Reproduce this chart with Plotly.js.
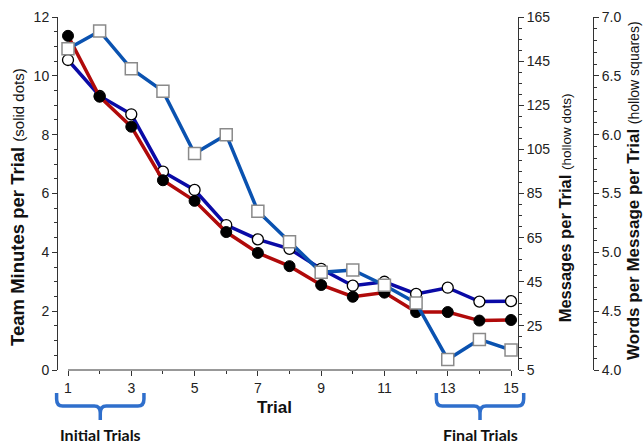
<!DOCTYPE html>
<html>
<head>
<meta charset="utf-8">
<script src="https://cdn.plot.ly/plotly-3.0.1.min.js"></script>
<style>
html,body{margin:0;padding:0;background:#fff;}
#chart{width:644px;height:443px;}
</style>
</head>
<body>
<div id="chart"></div>
<script>
const trials = [1,2,3,4,5,6,7,8,9,10,11,12,13,14,15];
const minutes = [11.36, 9.29, 8.27, 6.45, 5.75, 4.69, 3.98, 3.53, 2.89, 2.49, 2.63, 1.97, 1.97, 1.68, 1.70];
const messages = [145.5, 129.2, 120.9, 94.9, 86.6, 70.7, 64.2, 59.9, 50.8, 43.2, 45.0, 39.5, 42.3, 36.0, 36.2];
const words = [6.73, 6.88, 6.56, 6.37, 5.84, 6.00, 5.35, 5.09, 4.83, 4.85, 4.72, 4.57, 4.09, 4.26, 4.17];
const xTickVals = [1,3,5,7,9,11,13,15];
const groups = [
  {label: 'Initial Trials', first: 1, last: 3},
  {label: 'Final Trials', first: 13, last: 15}
];

const FONT = 'Liberation Sans, Arial, sans-serif';
const xRange = [0.684, 15.22];
const xDom = [0, 0.8598];
function toPaperX(t){ return xDom[0] + (t - xRange[0])/(xRange[1]-xRange[0])*(xDom[1]-xDom[0]); }

const traces = [
  {x: trials, y: messages, yaxis: 'y', type: 'scatter', mode: 'lines+markers',
   line: {color: '#0a0aa6', width: 3.5},
   marker: {symbol: 'circle', size: 11, color: '#ffffff', line: {color: '#000000', width: 1.3}},
   name: 'Messages', showlegend: false},
  {x: trials, y: minutes, yaxis: 'y2', type: 'scatter', mode: 'lines+markers',
   line: {color: '#b00a0a', width: 3.5},
   marker: {symbol: 'circle', size: 11, color: '#000000', line: {color: '#000000', width: 1}},
   name: 'Minutes', showlegend: false},
  {x: trials, y: words, yaxis: 'y3', type: 'scatter', mode: 'lines+markers',
   line: {color: '#0a52b0', width: 3.5},
   marker: {symbol: 'square', size: 12, color: '#ffffff', line: {color: '#8a8a8a', width: 1.5}},
   name: 'Words', showlegend: false}
];

const axisCommon = {
  showgrid: false, zeroline: false, showline: true, linecolor: '#333', linewidth: 1,
  ticks: 'outside', ticklen: 5, tickcolor: '#333', tickwidth: 1,
  tickfont: {family: FONT, size: 14, color: '#222'},
  automargin: false
};

const shapes = [
  {type: 'line', xref: 'x', yref: 'paper', x0: trials[0], x1: trials[trials.length-1], y0: 0, y1: 0,
   line: {color: '#333', width: 1}}
];
const annotations = [
  {xref: 'paper', yref: 'paper', x: -0.0748, y: 0.462, textangle: -90, showarrow: false,
   xanchor: 'center', yanchor: 'middle',
   text: '<b>Team Minutes per Trial</b> <span style="font-size:15px">(solid dots)</span>',
   font: {family: FONT, size: 18.5, color: '#111'}},
  {xref: 'paper', yref: 'paper', x: 0.9477, y: 0.458, textangle: -90, showarrow: false,
   xanchor: 'center', yanchor: 'middle',
   text: '<b>Messages per Trial</b> <span style="font-size:13.5px">(hollow dots)</span>',
   font: {family: FONT, size: 16.5, color: '#111'}},
  {xref: 'paper', yref: 'paper', x: 1.0748, y: 0.507, textangle: -90, showarrow: false,
   xanchor: 'center', yanchor: 'middle',
   text: '<b>Words per Message per Trial</b> <span style="font-size:14px">(hollow squares)</span>',
   font: {family: FONT, size: 17, color: '#111'}},
  {xref: 'paper', yref: 'paper', x: 0.4056, y: -0.1076, showarrow: false,
   xanchor: 'center', yanchor: 'middle', text: '<b>Trial</b>',
   font: {family: FONT, size: 17, color: '#111'}}
];

const yt = -0.065, yh = -0.102, yb = -0.1416, ry = 0.02, rxPx = 6/535;
groups.forEach(g => {
  const x0 = toPaperX(g.first - 0.36), x1 = toPaperX(g.last + 0.4), xc = (x0 + x1)/2;
  const p = `M ${x0},${yt} L ${x0},${yh+ry} Q ${x0},${yh} ${x0+rxPx},${yh} L ${xc-rxPx},${yh} Q ${xc},${yh} ${xc},${yh-ry} L ${xc},${yb} ` +
            `M ${xc},${yh-ry} Q ${xc},${yh} ${xc+rxPx},${yh} L ${x1-rxPx},${yh} Q ${x1},${yh} ${x1},${yh+ry} L ${x1},${yt}`;
  shapes.push({type: 'path', xref: 'paper', yref: 'paper', path: p, line: {color: '#2f6fcc', width: 3.5}});
  annotations.push({xref: 'paper', yref: 'paper', x: xc, y: -0.184, showarrow: false,
    xanchor: 'center', yanchor: 'middle', text: '<b>' + g.label + '</b>',
    font: {family: 'Lato, Open Sans, sans-serif', size: 16, color: '#111'}});
});

const layout = {
  width: 644, height: 443,
  margin: {l: 58, r: 51, t: 17, b: 73, pad: 0},
  paper_bgcolor: '#fff', plot_bgcolor: '#fff',
  showlegend: false,
  xaxis: Object.assign({}, axisCommon, {
    domain: xDom, range: xRange, showline: false,
    tickmode: 'array', tickvals: xTickVals, ticktext: xTickVals.map(String),
    minor: {tickmode: 'linear', tick0: 1, dtick: 1, ticks: 'outside', ticklen: 3, tickcolor: '#333'}
  }),
  yaxis: Object.assign({}, axisCommon, {
    range: [5, 165], side: 'right', anchor: 'x',
    tickmode: 'linear', tick0: 5, dtick: 20,
    minor: {tickmode: 'linear', tick0: 5, dtick: 5, ticks: 'outside', ticklen: 3, tickcolor: '#333'}
  }),
  yaxis2: Object.assign({}, axisCommon, {
    range: [0, 12], side: 'left', overlaying: 'y', anchor: 'x',
    tickmode: 'linear', tick0: 0, dtick: 2,
    minor: {tickmode: 'linear', tick0: 0, dtick: 0.5, ticks: 'outside', ticklen: 3, tickcolor: '#333'}
  }),
  yaxis3: Object.assign({}, axisCommon, {
    range: [4, 7], side: 'right', overlaying: 'y', anchor: 'free', position: 1,
    tickmode: 'linear', tick0: 4, dtick: 0.5, tickformat: '.1f',
    minor: {tickmode: 'linear', tick0: 4, dtick: 0.1, ticks: 'outside', ticklen: 3, tickcolor: '#333'}
  }),
  shapes: shapes,
  annotations: annotations
};

Plotly.newPlot('chart', traces, layout, {displayModeBar: false, staticPlot: true});
</script>
</body>
</html>
